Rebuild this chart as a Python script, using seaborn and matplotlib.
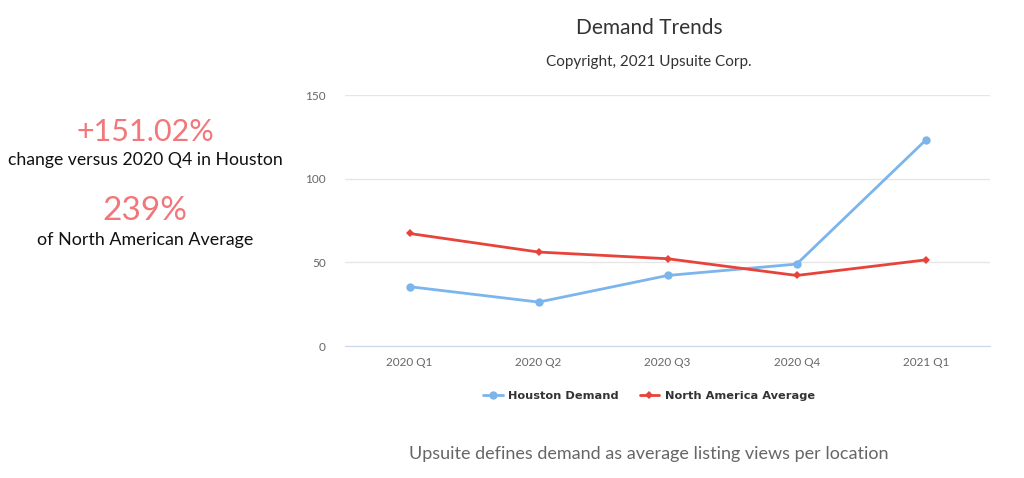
import matplotlib.pyplot as plt
import pandas as pd
import seaborn as sns

quarters = ["2020 Q1", "2020 Q2", "2020 Q3", "2020 Q4", "2021 Q1"]
houston = [35.5, 26.3, 42.2, 49.0, 123.1]
na_avg = [67.3, 56.2, 52.2, 42.2, 51.5]
series_names = ["Houston Demand", "North America Average"]

df = pd.DataFrame({
    "quarter": quarters * 2,
    "value": houston + na_avg,
    "series": [series_names[0]] * 5 + [series_names[1]] * 5,
})

sns.set_style("white")
plt.rcParams["font.family"] = ["Lato", "DejaVu Sans"]

fig = plt.figure(figsize=(10.24, 4.78), dpi=100)
ax = fig.add_axes([0.337, 0.276, 0.63, 0.525])

colors = {"Houston Demand": "#7cb5ec", "North America Average": "#e8433a"}
sns.lineplot(
    data=df, x="quarter", y="value", hue="series", style="series",
    markers={"Houston Demand": "o", "North America Average": "D"},
    dashes=False, palette=colors, ax=ax, linewidth=2,
    markersize=6, markeredgewidth=0, sort=False,
)
# smaller diamonds like the reference
for line in ax.get_lines():
    if line.get_marker() == "D":
        line.set_markersize(4.5)

ax.set_xlim(-0.5, 4.5)
ax.set_ylim(0, 150)
ax.set_yticks([0, 50, 100, 150])
ax.set_xlabel("")
ax.set_ylabel("")
ax.grid(axis="y", color="#e6e6e6", linewidth=1)
ax.set_axisbelow(True)
for side in ["top", "right", "left"]:
    ax.spines[side].set_visible(False)
ax.spines["bottom"].set_color("#ccd6eb")
ax.tick_params(axis="both", length=0, labelsize=8.5, colors="#666666")
ax.tick_params(axis="y", pad=14)
ax.tick_params(axis="x", pad=8)

handles, labels = ax.get_legend_handles_labels()
for h in handles:
    if h.get_marker() == "D":
        h.set_markersize(4.5)
leg = fig.legend(handles, labels, loc="center",
                 bbox_to_anchor=(649 / 1024, 1 - 396 / 478),
                 ncol=2, frameon=False,
                 handlelength=1.7, columnspacing=1.8, handletextpad=0.5,
                 prop={"family": "DejaVu Sans", "weight": "bold", "size": 8.2})
ax.get_legend().remove()
for t in leg.get_texts():
    t.set_color("#333333")

cx = 649 / 1024
fig.text(cx, 1 - 28 / 478, "Demand Trends", ha="center", va="center",
         fontsize=15, color="#333333")
fig.text(cx, 1 - 62 / 478, "Copyright, 2021 Upsuite Corp.", ha="center",
         va="center", fontsize=11, color="#333333")
fig.text(cx, 1 - 454 / 478, "Upsuite defines demand as average listing views per location",
         ha="center", va="center", fontsize=13, color="#666666")

lx = 145 / 1024
pink = "#f2777a"
fig.text(lx, 1 - 132 / 478, "+151.02%", ha="center", va="center",
         fontsize=22, color=pink)
fig.text(lx, 1 - 160 / 478, "change versus 2020 Q4 in Houston", ha="center",
         va="center", fontsize=12.7, color="#111111")
fig.text(lx, 1 - 211 / 478, "239%", ha="center", va="center",
         fontsize=24, color=pink)
fig.text(lx, 1 - 240 / 478, "of North American Average", ha="center",
         va="center", fontsize=12.9, color="#111111")

fig.savefig("out.png", dpi=100)
